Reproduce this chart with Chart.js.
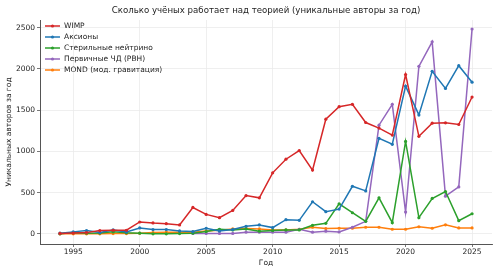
<!DOCTYPE html>
<html><head><meta charset="utf-8">
<script src="https://cdn.jsdelivr.net/npm/chart.js@4.4.1/dist/chart.umd.min.js"></script>
<style>html,body{margin:0;padding:0;background:#fff}#wrap{width:500px;height:273px}</style>
</head><body><div id="wrap"><canvas id="c" width="500" height="273"></canvas></div>
<script>
const years = [1994,1995,1996,1997,1998,1999,2000,2001,2002,2003,2004,2005,2006,2007,2008,2009,2010,2011,2012,2013,2014,2015,2016,2017,2018,2019,2020,2021,2022,2023,2024,2025];
const wimp = [5,10,15,40,44,44,144,132,124,108,320,236,196,284,464,437,740,905,1010,773,1390,1542,1571,1350,1282,1198,1931,1182,1342,1346,1326,1659];
const axions = [8,24,40,16,48,24,72,52,52,36,28,68,36,52,92,108,76,172,164,389,269,300,577,521,1158,1086,1791,1442,1971,1763,2039,1839];
const sterile = [0,16,8,10,24,12,8,0,0,4,8,28,56,48,60,32,40,48,48,104,128,364,256,152,437,136,1121,196,429,513,160,244];
const pbh = [null,null,null,null,null,null,null,null,null,null,5,5,5,5,20,20,20,20,56,20,32,24,80,152,1318,1571,264,2031,2328,457,569,2484];
const mond = [0,0,0,0,4,4,8,16,20,20,20,36,44,60,64,60,48,48,56,80,64,68,68,80,80,56,56,86,68,110,72,72];
const seriesNames = ["WIMP","Аксионы","Стерильные нейтрино","Первичные ЧД (PBH)","MOND (мод. гравитация)"];
const seriesData = [wimp, axions, sterile, pbh, mond];
const colors = ["#d62728","#1f77b4","#2ca02c","#9467bd","#ff7f0e"];
const xTicks = [1995,2000,2005,2010,2015,2020,2025];
const yTicks = [0,500,1000,1500,2000,2500];
const titleText = "Сколько учёных работает над теорией (уникальные авторы за год)";
const xTitle = "Год";
const yTitle = "Уникальных авторов за год";

const FONT = "'DejaVu Sans', sans-serif";
const datasets = seriesNames.map((n,i)=>({
  label:n,
  data: years.map((y,j)=>({x:y, y:seriesData[i][j]})),
  borderColor: colors[i], backgroundColor: colors[i],
  borderWidth: 1.5, pointRadius: 1.6, pointHoverRadius: 1.6, pointBorderWidth: 0,
  tension: 0, spanGaps: false
}));

const overlayPlugin = {
  id:'overlay',
  afterDraw(chart){
    const ctx = chart.ctx, ca = chart.chartArea;
    ctx.save();
    ctx.font = "8.6px " + FONT;
    ctx.fillStyle = '#222';
    ctx.textAlign = 'center'; ctx.textBaseline = 'middle';
    ctx.fillText(titleText, (ca.left + ca.right)/2, 11);
    ctx.font = "7.5px " + FONT;
    ctx.textAlign = 'left';
    const x0 = 45, y0 = 26, dy = 11;
    chart.data.datasets.forEach((ds,i)=>{
      const y = y0 + i*dy;
      ctx.strokeStyle = ds.borderColor; ctx.lineWidth = 1.5;
      ctx.beginPath(); ctx.moveTo(x0,y); ctx.lineTo(x0+15,y); ctx.stroke();
      ctx.fillStyle = ds.borderColor;
      ctx.beginPath(); ctx.arc(x0+7.5,y,1.6,0,Math.PI*2); ctx.fill();
      ctx.fillStyle = '#222';
      ctx.fillText(ds.label, x0+19, y+0.5);
    });
    ctx.restore();
  }
};

new Chart(document.getElementById('c'), {
  type:'line',
  data:{datasets},
  options:{
    responsive:false, animation:false, devicePixelRatio:1,
    layout:{padding:{left:0,right:8,top:20,bottom:0}},
    plugins:{ legend:{display:false}, tooltip:{enabled:false}, title:{display:false} },
    scales:{
      x:{type:'linear', min:1992.5, max:2026.5,
        afterBuildTicks(s){ s.ticks = xTicks.map(v=>({value:v})); },
        afterFit(s){ s.height = 29; },
        ticks:{callback:v=>String(v), color:'#222', font:{family:FONT,size:7.5}, padding:1, maxRotation:0},
        grid:{color:'#ebebeb', lineWidth:0.8, tickLength:3, tickColor:'#555'},
        border:{color:'#555', width:1},
        title:{display:true, text:xTitle, color:'#222', font:{family:FONT,size:7.5}, padding:{top:0,bottom:5}}
      },
      y:{type:'linear', min:-123, max:2593,
        afterBuildTicks(s){ s.ticks = yTicks.map(v=>({value:v})); },
        afterFit(s){ s.width = 40; },
        ticks:{callback:v=>String(v), color:'#222', font:{family:FONT,size:7.5}, padding:2},
        grid:{color:'#ebebeb', lineWidth:0.8, tickLength:3, tickColor:'#555'},
        border:{color:'#555', width:1},
        title:{display:true, text:yTitle, color:'#222', font:{family:FONT,size:7.5}, padding:{top:5,bottom:0}}
      }
    }
  },
  plugins:[overlayPlugin]
});
</script></body></html>
